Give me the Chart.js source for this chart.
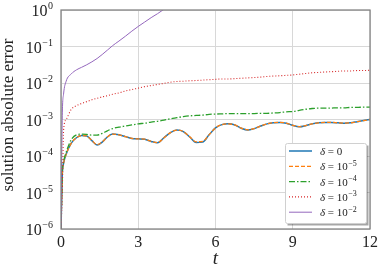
<!DOCTYPE html>
<html>
<head>
<meta charset="utf-8">
<script src="https://cdn.jsdelivr.net/npm/chart.js@4"></script>
<style>
    html, body { margin: 0; padding: 0; background: #fff; }
    #grafico { display: block; }
</style>
</head>
<body>
<canvas id="grafico" width="383" height="273"></canvas>
<script>
// tempos (eixo t) e erros absolutos
const tempos = [0, 0.05, 0.1, 0.2, 0.4, 0.6, 0.8, 1.0, 1.2, 1.4, 1.6, 1.8, 2.0,
    2.25, 2.5, 2.75, 3.0, 3.25, 3.5, 3.75, 4.0, 4.25, 4.5, 4.75, 5.0,
    5.25, 5.5, 5.75, 6.0, 6.25, 6.5, 6.75, 7.0, 7.25, 7.5, 7.75, 8.0,
    8.25, 8.5, 8.75, 9.0, 9.25, 9.5, 9.75, 10.0, 10.25, 10.5, 10.75, 11.0,
    11.25, 11.5, 11.75, 12.0];

const erroDelta0 = [1e-6, 3.16e-5, 6.3e-5, 1.12e-4, 2.24e-4, 3.16e-4, 3.63e-4, 3.55e-4, 2.63e-4, 2.0e-4, 2.4e-4, 3.31e-4, 3.98e-4,
    3.8e-4, 3.39e-4, 3.02e-4, 2.95e-4, 2.88e-4, 2.51e-4, 2.29e-4, 3.16e-4, 4.37e-4, 5.13e-4, 4.68e-4, 3.31e-4,
    2.34e-4, 2.4e-4, 3.8e-4, 5.89e-4, 7.24e-4, 7.59e-4, 7.08e-4, 5.75e-4, 5.13e-4, 5.62e-4, 6.61e-4, 7.59e-4,
    8.13e-4, 8.32e-4, 7.94e-4, 6.92e-4, 6.31e-4, 6.76e-4, 7.59e-4, 8.13e-4, 8.32e-4, 8.32e-4, 8.13e-4, 7.94e-4,
    8.13e-4, 8.71e-4, 9.33e-4, 1.0e-3];

const erroDelta1e5 = [1e-6, 3.16e-5, 6.3e-5, 1.12e-4, 2.24e-4, 3.16e-4, 3.63e-4, 3.55e-4, 2.66e-4, 2.05e-4, 2.42e-4, 3.31e-4, 3.98e-4,
    3.8e-4, 3.39e-4, 3.02e-4, 2.95e-4, 2.88e-4, 2.53e-4, 2.32e-4, 3.16e-4, 4.37e-4, 5.13e-4, 4.68e-4, 3.35e-4,
    2.45e-4, 2.5e-4, 3.8e-4, 5.89e-4, 7.24e-4, 7.59e-4, 7.08e-4, 5.8e-4, 5.2e-4, 5.65e-4, 6.61e-4, 7.59e-4,
    8.13e-4, 8.32e-4, 7.94e-4, 6.95e-4, 6.35e-4, 6.8e-4, 7.59e-4, 8.13e-4, 8.32e-4, 8.32e-4, 8.13e-4, 7.96e-4,
    8.13e-4, 8.71e-4, 9.33e-4, 1.0e-3];

const erroDelta1e4 = [1e-6, 3.5e-5, 7e-5, 1.26e-4, 2.82e-4, 3.8e-4, 3.98e-4, 3.89e-4, 3.72e-4, 3.72e-4, 4.17e-4, 4.9e-4, 5.62e-4,
    6.17e-4, 6.61e-4, 7.08e-4, 7.59e-4, 7.94e-4, 8.51e-4, 8.91e-4, 9.55e-4, 1.05e-3, 1.12e-3, 1.2e-3, 1.26e-3,
    1.29e-3, 1.32e-3, 1.38e-3, 1.41e-3, 1.43e-3, 1.45e-3, 1.45e-3, 1.45e-3, 1.45e-3, 1.45e-3, 1.48e-3, 1.48e-3,
    1.51e-3, 1.55e-3, 1.62e-3, 1.66e-3, 1.78e-3, 1.91e-3, 2.0e-3, 2.04e-3, 2.04e-3, 2.06e-3, 2.09e-3, 2.09e-3,
    2.14e-3, 2.14e-3, 2.19e-3, 2.19e-3];

const erroDelta1e3 = [1e-6, 1e-5, 5e-4, 1.0e-3, 1.9e-3, 2.4e-3, 2.75e-3, 3.09e-3, 3.47e-3, 3.8e-3, 4.17e-3, 4.47e-3, 4.9e-3,
    5.37e-3, 6.03e-3, 6.61e-3, 7.24e-3, 7.94e-3, 8.51e-3, 9.12e-3, 9.77e-3, 1.05e-2, 1.1e-2, 1.12e-2, 1.15e-2,
    1.17e-2, 1.2e-2, 1.23e-2, 1.26e-2, 1.29e-2, 1.29e-2, 1.32e-2, 1.35e-2, 1.38e-2, 1.41e-2, 1.45e-2, 1.51e-2,
    1.55e-2, 1.58e-2, 1.62e-2, 1.66e-2, 1.74e-2, 1.82e-2, 1.91e-2, 1.95e-2, 2.0e-2, 2.04e-2, 2.09e-2, 2.14e-2,
    2.14e-2, 2.19e-2, 2.19e-2, 2.24e-2];

// δ = 1e-2 sai do gráfico pouco depois de t = 4
const erroDelta1e2 = [1e-6, 1.26e-3, 5.0e-3, 1.12e-2, 1.78e-2, 2.29e-2, 2.69e-2, 3.16e-2, 3.8e-2, 4.68e-2, 6.03e-2, 7.94e-2, 0.105,
    0.141, 0.191, 0.263, 0.355, 0.468, 0.617, 0.794, 1.05];

const rotulosSerie = ['0', '−5', '−4', '−3', '−2'];
const ticksY = [1e-6, 1e-5, 1e-4, 1e-3, 1e-2, 1e-1, 1];
const expoentesY = ['−6', '−5', '−4', '−3', '−2', '−1', '0'];
const ticksX = [0, 3, 6, 9, 12];

const FONTE = '"Liberation Serif", "DejaVu Serif", serif';

function pontos(valores) {
    return valores.map((valor, i) => ({ x: tempos[i], y: valor }));
}

const estilos = [
    { cor: '#1f77b4', largura: 1.5, traco: [], ordem: 4 },
    { cor: '#ff7f0e', largura: 1.3, traco: [4, 2], ordem: 3 },
    { cor: '#2ca02c', largura: 1.3, traco: [6, 2, 1.5, 2], ordem: 2 },
    { cor: '#d62728', largura: 1.1, traco: [1, 2], ordem: 1 },
    { cor: '#9467bd', largura: 1.0, traco: [], ordem: 0 },
];
const series = [erroDelta0, erroDelta1e5, erroDelta1e4, erroDelta1e3, erroDelta1e2];

const datasets = series.map((valores, i) => ({
    label: 'δ = ' + rotulosSerie[i],
    data: pontos(valores),
    borderColor: estilos[i].cor,
    borderWidth: estilos[i].largura,
    borderDash: estilos[i].traco,
    order: estilos[i].ordem,
    pointRadius: 0,
    fill: false,
    cubicInterpolationMode: 'monotone',
}));

const desenhoExtra = {
    id: 'desenhoExtra',
    afterDraw(chart) {
        const { ctx, chartArea: area, scales } = chart;
        ctx.save();

        // moldura
        ctx.strokeStyle = '#808080';
        ctx.lineWidth = 1.25;
        ctx.strokeRect(area.left, area.top, area.right - area.left, area.bottom - area.top);

        // rótulos do eixo y com expoente
        ctx.fillStyle = '#222';
        ticksY.forEach((valor, i) => {
            const py = scales.y.getPixelForValue(valor);
            ctx.font = `10px ${FONTE}`;
            const largExp = ctx.measureText(expoentesY[i]).width;
            const xFim = area.left - 8;
            ctx.textAlign = 'left';
            ctx.textBaseline = 'alphabetic';
            ctx.fillText(expoentesY[i], xFim - largExp, py - 1);
            ctx.font = `16px ${FONTE}`;
            ctx.textAlign = 'right';
            ctx.fillText('10', xFim - largExp - 0.5, py + 6);
        });

        // título do eixo y
        ctx.save();
        ctx.translate(9, 115);
        ctx.rotate(-Math.PI / 2);
        ctx.font = `17px ${FONTE}`;
        ctx.textAlign = 'center';
        ctx.textBaseline = 'middle';
        ctx.fillText('solution absolute error', 0, 0);
        ctx.restore();

        // legenda
        const caixa = { x: 285.5, y: 143.5, w: 81, h: 80 };
        ctx.fillStyle = 'rgba(0,0,0,0.35)';
        ctx.fillRect(caixa.x + 2, caixa.y + 2, caixa.w, caixa.h);
        ctx.beginPath();
        ctx.roundRect(caixa.x, caixa.y, caixa.w, caixa.h, 2);
        ctx.fillStyle = '#fff';
        ctx.fill();
        ctx.strokeStyle = '#d0d0d0';
        ctx.lineWidth = 1;
        ctx.stroke();

        estilos.forEach((estilo, i) => {
            const ly = 151 + i * 15.3;
            ctx.beginPath();
            ctx.setLineDash(estilo.traco);
            ctx.strokeStyle = estilo.cor;
            ctx.lineWidth = estilo.largura;
            ctx.moveTo(289, ly);
            ctx.lineTo(312, ly);
            ctx.stroke();
            ctx.setLineDash([]);

            ctx.fillStyle = '#222';
            ctx.textAlign = 'left';
            ctx.textBaseline = 'alphabetic';
            let px = 320;
            ctx.font = `italic 11px ${FONTE}`;
            ctx.fillText('δ', px, ly + 4);
            px += ctx.measureText('δ').width;
            ctx.font = `11px ${FONTE}`;
            const igual = i === 0 ? ' = 0' : ' = 10';
            ctx.fillText(igual, px, ly + 4);
            px += ctx.measureText(igual).width;
            if (i > 0) {
                ctx.font = `8px ${FONTE}`;
                ctx.fillText(rotulosSerie[i], px + 0.5, ly - 0.5);
            }
        });

        ctx.restore();
    },
};

new Chart(document.getElementById('grafico'), {
    type: 'line',
    data: { datasets },
    options: {
        responsive: false,
        devicePixelRatio: 1,
        animation: false,
        layout: { padding: { top: 10, right: 13, left: 0, bottom: 0 } },
        plugins: {
            legend: { display: false },
            tooltip: { enabled: false },
        },
        scales: {
            x: {
                type: 'linear',
                min: 0,
                max: 12,
                afterBuildTicks: escala => { escala.ticks = ticksX.map(v => ({ value: v })); },
                afterFit: escala => { escala.height = 44; },
                ticks: {
                    font: { family: FONTE, size: 16 },
                    color: '#222',
                    padding: 4,
                    maxRotation: 0,
                },
                grid: { color: '#d8d8d8', lineWidth: 1, drawTicks: false },
                border: { display: false },
                title: {
                    display: true,
                    text: 't',
                    font: { family: FONTE, size: 19, style: 'italic' },
                    color: '#222',
                    padding: { top: 0, bottom: 3 },
                },
            },
            y: {
                type: 'logarithmic',
                min: 1e-6,
                max: 1,
                afterBuildTicks: escala => { escala.ticks = ticksY.map(v => ({ value: v })); },
                afterFit: escala => { escala.width = 61; },
                ticks: { display: false },
                grid: { color: '#d8d8d8', lineWidth: 1, drawTicks: false },
                border: { display: false },
            },
        },
    },
    plugins: [desenhoExtra],
});
</script>
</body>
</html>
